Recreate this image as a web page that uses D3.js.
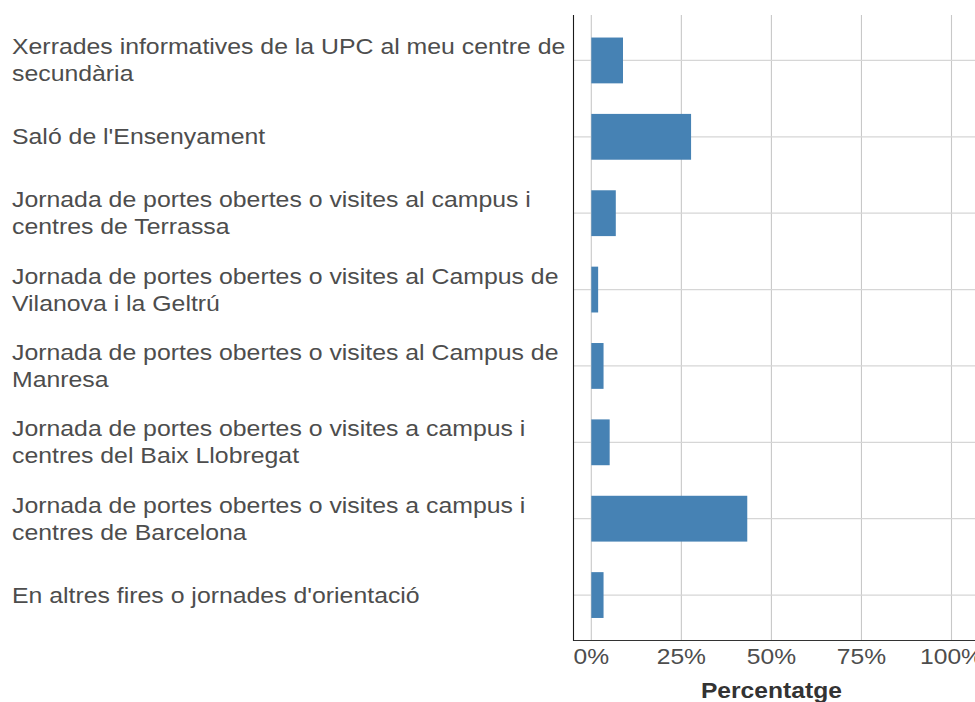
<!DOCTYPE html>
<html>
<head>
<meta charset="utf-8">
<script src="https://cdn.jsdelivr.net/npm/d3@7"></script>
<style>
  html, body { margin: 0; padding: 0; background: #fff; }
  svg { display: block; font-family: "Liberation Sans", Arial, Helvetica, sans-serif; }
</style>
</head>
<body>
<svg id="chart" width="975" height="702"></svg>
<script>
const categories = [
  "Xerrades informatives de la UPC al meu centre de secundària",
  "Saló de l'Ensenyament",
  "Jornada de portes obertes o visites al campus i centres de Terrassa",
  "Jornada de portes obertes o visites al Campus de Vilanova i la Geltrú",
  "Jornada de portes obertes o visites al Campus de Manresa",
  "Jornada de portes obertes o visites a campus i centres del Baix Llobregat",
  "Jornada de portes obertes o visites a campus i centres de Barcelona",
  "En altres fires o jornades d'orientació"
];
const values = [0.088, 0.277, 0.068, 0.019, 0.034, 0.051, 0.433, 0.034];
const xTicks = [0, 0.25, 0.5, 0.75, 1];
const xTitle = "Percentatge";

(function () {
const svg = d3.select("#chart");
const axisX = 573.5, plotTop = 15, plotBottom = 640.5;
const sxLab = 1.155, sxTick = 1.12;
const x = d3.scaleLinear().domain([0, 1]).range([591.3, 951.5]);
const y = d3.scaleBand().domain(categories).range([plotTop, plotBottom]).paddingInner(0.4).paddingOuter(0.295);
const yc = d => y(d) + y.bandwidth() / 2;

// vertical gridlines
svg.append("g").selectAll("line").data(xTicks).join("line")
  .attr("x1", d => x(d)).attr("x2", d => x(d))
  .attr("y1", plotTop).attr("y2", plotBottom)
  .attr("stroke", "#c8c8c8").attr("stroke-width", 1.1);

// horizontal gridlines
svg.append("g").selectAll("line").data(categories).join("line")
  .attr("x1", axisX).attr("x2", 975)
  .attr("y1", d => yc(d)).attr("y2", d => yc(d))
  .attr("stroke", "#d6d6d6").attr("stroke-width", 1.3);

// bars
svg.append("g").selectAll("rect").data(categories).join("rect")
  .attr("x", x(0))
  .attr("y", d => y(d))
  .attr("width", (d, i) => x(values[i]) - x(0))
  .attr("height", y.bandwidth())
  .attr("fill", "#4682b4");

// axes lines
svg.append("line").attr("x1", axisX).attr("x2", axisX).attr("y1", plotTop).attr("y2", plotBottom + 0.5)
  .attr("stroke", "#1a1a1a").attr("stroke-width", 1.1);
svg.append("line").attr("x1", axisX).attr("x2", 975).attr("y1", plotBottom).attr("y2", plotBottom)
  .attr("stroke", "#333").attr("stroke-width", 1.1);

// x tick labels
svg.append("g").selectAll("text").data(xTicks).join("text")
  .attr("transform", d => `translate(${x(d)},664) scale(${sxTick},1)`)
  .attr("text-anchor", "middle")
  .attr("font-size", 22).attr("fill", "#4d4d4d")
  .text(d => d3.format(".0%")(d));

// x title
svg.append("text").attr("transform", `translate(${x(0.5)},697.5) scale(${sxTick},1)`)
  .attr("text-anchor", "middle").attr("font-size", 22).attr("font-weight", "bold").attr("fill", "#333")
  .text(xTitle);

// y labels with wrapping
const fs = 21.5, lh = 27, maxW = 562 / sxLab;
const lg = svg.append("g");
categories.forEach((c, i) => {
  const cy = yc(c);
  const g = lg.append("g");
  const t = g.append("text").attr("font-size", fs).attr("fill", "#4d4d4d");
  const words = c.split(" ");
  let lines = [], cur = [];
  const probe = lg.append("text").attr("font-size", fs);
  words.forEach(w => {
    const test = cur.concat([w]).join(" ");
    probe.text(test);
    if (probe.node().getComputedTextLength() > maxW && cur.length) {
      lines.push(cur.join(" ")); cur = [w];
    } else cur.push(w);
  });
  lines.push(cur.join(" "));
  probe.remove();
  const y0 = cy - (lines.length - 1) * lh / 2 + 7.5;
  g.attr("transform", `translate(12,${y0}) scale(${sxLab},1)`);
  lines.forEach((l, j) => {
    t.append("tspan").attr("x", 0).attr("y", j * lh).text(l);
  });
});
})();
</script>
</body>
</html>
